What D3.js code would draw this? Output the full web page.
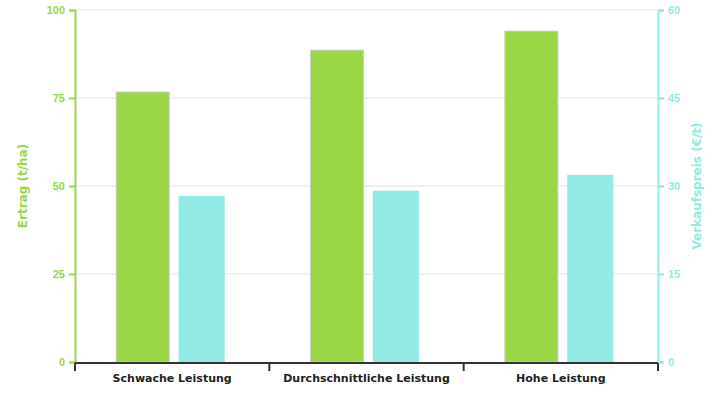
<!DOCTYPE html>
<html>
<head>
<meta charset="utf-8">
<script src="https://cdn.jsdelivr.net/npm/d3@7"></script>
<style>
  body { margin: 0; background: #fff; }
  svg { display: block; font-family: "DejaVu Sans", sans-serif; }
</style>
</head>
<body>
<svg id="chart" width="725" height="400"></svg>
<script>
// data
var categories = ['Schwache Leistung', 'Durchschnittliche Leistung', 'Hohe Leistung'];
var ertrag = [76.7, 88.6, 94.0];       // t/ha, left axis
var preis = [28.3, 29.2, 31.9];        // €/t, right axis
var leftTicks = [0, 25, 50, 75, 100];
var rightTicks = [0, 15, 30, 45, 60];

var green = '#9bd646';
var cyan = '#93e9e3';

var margin = {top: 10, left: 75, right: 67, bottom: 38};
var width = 725 - margin.left - margin.right;
var height = 400 - margin.top - margin.bottom;

var svg = d3.select('#chart');
var g = svg.append('g').attr('transform', 'translate(' + margin.left + ',' + margin.top + ')');

var x0 = d3.scaleBand().domain(categories).range([0, width]).padding(0);
var x1 = d3.scaleBand().domain(['ertrag', 'preis']).range([0, x0.bandwidth()])
  .paddingInner(0.1).paddingOuter(0.7);
var yL = d3.scaleLinear().domain([0, 100]).range([height, 0]);
var yR = d3.scaleLinear().domain([0, 60]).range([height, 0]);

// grid
g.append('g').selectAll('line')
  .data(leftTicks.slice(1))
  .enter().append('line')
  .attr('x1', 0).attr('x2', width)
  .attr('y1', d => yL(d)).attr('y2', d => yL(d))
  .attr('stroke', '#e3e3e3').attr('stroke-width', 1);

// bars
var groups = g.selectAll('.grp')
  .data(categories)
  .enter().append('g')
  .attr('class', 'grp')
  .attr('transform', d => 'translate(' + x0(d) + ',0)');

groups.append('rect')
  .attr('x', (d, i) => x1('ertrag'))
  .attr('width', x1.bandwidth())
  .attr('y', (d, i) => yL(ertrag[i]))
  .attr('height', (d, i) => height - yL(ertrag[i]))
  .attr('fill', green)
  .attr('stroke', '#cccccc').attr('stroke-width', 1);

var cw = x1.bandwidth() * 0.87;
groups.append('rect')
  .attr('x', (d, i) => x1('preis') + (x1.bandwidth() - cw) / 2)
  .attr('width', cw)
  .attr('y', (d, i) => yR(preis[i]))
  .attr('height', (d, i) => height - yR(preis[i]))
  .attr('fill', cyan);

// left axis
var axL = g.append('g')
  .call(d3.axisLeft(yL).tickValues(leftTicks).tickSize(6).tickPadding(4));
axL.selectAll('path, line').attr('stroke', green).attr('stroke-width', 2);
axL.selectAll('text').attr('fill', green).style('font-size', '11px').style('font-weight', 'bold');

// right axis
var axR = g.append('g')
  .attr('transform', 'translate(' + width + ',0)')
  .call(d3.axisRight(yR).tickValues(rightTicks).tickSize(6).tickPadding(4));
axR.selectAll('path, line').attr('stroke', cyan).attr('stroke-width', 2);
axR.selectAll('text').attr('fill', cyan).style('font-size', '11px').style('font-weight', 'bold');

// bottom axis, ticks at band boundaries
var axB = g.append('g').attr('transform', 'translate(0,' + (height + 1) + ')');
axB.append('line').attr('x1', 0).attr('x2', width)
  .attr('stroke', '#333').attr('stroke-width', 2);
axB.selectAll('.tk')
  .data(categories.map(c => x0(c)).concat([width]))
  .enter().append('line')
  .attr('x1', d => d).attr('x2', d => d)
  .attr('y1', 0).attr('y2', 8)
  .attr('stroke', '#333').attr('stroke-width', 2);
axB.selectAll('.lbl')
  .data(categories)
  .enter().append('text')
  .attr('x', d => x0(d) + x0.bandwidth() / 2)
  .attr('y', 19)
  .attr('text-anchor', 'middle')
  .attr('fill', '#222')
  .style('font-size', '11px').style('font-weight', 'bold')
  .text(d => d);

// axis titles
svg.append('text')
  .attr('transform', 'translate(27,' + (margin.top + height / 2) + ') rotate(-90)')
  .attr('text-anchor', 'middle')
  .attr('fill', green)
  .style('font-size', '12px').style('font-weight', 'bold')
  .text('Ertrag (t/ha)');

svg.append('text')
  .attr('transform', 'translate(701,' + (margin.top + height / 2) + ') rotate(-90)')
  .attr('text-anchor', 'middle')
  .attr('fill', cyan)
  .style('font-size', '12px').style('font-weight', 'bold')
  .text('Verkaufspreis (€/t)');
</script>
</body>
</html>
